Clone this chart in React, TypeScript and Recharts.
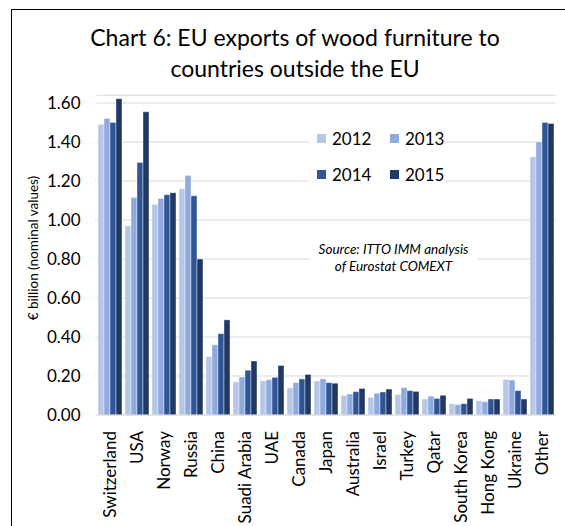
import { Bar, BarChart, CartesianGrid, XAxis, YAxis } from "recharts";

// EU exports of wood furniture outside the EU, € billion
const countries = [
  "Switzerland", "USA", "Norway", "Russia", "China", "Suadi Arabia", "UAE", "Canada", "Japan",
  "Australia", "Israel", "Turkey", "Qatar", "South Korea", "Hong Kong", "Ukraine", "Other",
];
const exports2012 = [1.49, 0.97, 1.08, 1.16, 0.3, 0.17, 0.175, 0.14, 0.175, 0.1, 0.09, 0.105, 0.082, 0.058, 0.073, 0.182, 1.325];
const exports2013 = [1.52, 1.115, 1.11, 1.228, 0.36, 0.195, 0.181, 0.166, 0.185, 0.108, 0.112, 0.14, 0.097, 0.053, 0.068, 0.179, 1.4];
const exports2014 = [1.5, 1.295, 1.13, 1.124, 0.417, 0.23, 0.193, 0.185, 0.166, 0.12, 0.118, 0.125, 0.085, 0.058, 0.082, 0.125, 1.5];
const exports2015 = [1.622, 1.555, 1.14, 0.8, 0.488, 0.277, 0.254, 0.208, 0.163, 0.136, 0.133, 0.121, 0.101, 0.085, 0.082, 0.082, 1.495];
const yTicks = [0, 0.2, 0.4, 0.6, 0.8, 1.0, 1.2, 1.4, 1.6];

const series = [
  { key: "y2012", label: "2012", color: "#b4c7e7", values: exports2012 },
  { key: "y2013", label: "2013", color: "#8faadc", values: exports2013 },
  { key: "y2014", label: "2014", color: "#2f5597", values: exports2014 },
  { key: "y2015", label: "2015", color: "#203864", values: exports2015 },
];

const FONT = "Lato, 'Open Sans', sans-serif";

type Row = { name: string; [k: string]: string | number };

const chartData: Row[] = countries.map((name, i) => {
  const row: Row = { name };
  series.forEach((s) => {
    row[s.key] = s.values[i];
  });
  return row;
});

/** Country names, rotated to read bottom-to-top under each group. */
function CountryTick(props: any) {
  const { x, y, payload } = props;
  return (
    <text
      x={x}
      y={y}
      transform={`rotate(-90, ${x}, ${y})`}
      textAnchor="end"
      dy="0.35em"
      fontSize={17}
      fontFamily={FONT}
      fill="#000"
    >
      {payload.value}
    </text>
  );
}

export default function App() {
  return (
    <div style={{ position: "absolute", left: 0, top: 0, width: 565, height: 526, background: "#fff", overflow: "hidden", fontFamily: FONT }}>
      {/* frame: only left and top edges show in the crop */}
      <div style={{ position: "absolute", left: 11, top: 9, width: 560, height: 530, borderLeft: "1.5px solid #000", borderTop: "1.5px solid #000" }} />
      <div style={{ position: "absolute", left: 12, top: 22, width: 566, textAlign: "center", fontSize: 23, lineHeight: "31px", color: "#000" }}>
        Chart 6: EU exports of wood furniture to
        <br />
        countries outside the EU
      </div>
      <BarChart
        width={565}
        height={526}
        data={chartData}
        margin={{ top: 95.2, right: 9.5, left: 36.5, bottom: 0 }}
        barCategoryGap="5.5%"
        barGap={0}
        style={{ position: "absolute", left: 0, top: 0 }}
      >
        <CartesianGrid vertical={false} stroke="#d9d9d9" />
        <XAxis
          dataKey="name"
          interval={0}
          height={111}
          tickSize={0}
          tickMargin={16}
          tickLine={false}
          axisLine={{ stroke: "#d9d9d9" }}
          tick={CountryTick}
        />
        <YAxis
          domain={[0, 1.64]}
          ticks={yTicks}
          tickFormatter={(v: number) => v.toFixed(2)}
          width={60}
          axisLine={false}
          tickLine={false}
          tickSize={8}
          tickMargin={8}
          tick={{ fill: "#000", fontSize: 17, fontFamily: FONT }}
        />
        {series.map((s) => (
          <Bar key={s.key} dataKey={s.key} fill={s.color} stroke="#ffffff" strokeWidth={0.4} isAnimationActive={false} />
        ))}
      </BarChart>
      {/* axis title */}
      <div
        style={{
          position: "absolute",
          left: 33,
          top: 248,
          transform: "translate(-50%, -50%) rotate(-90deg)",
          whiteSpace: "nowrap",
          fontSize: 13.5,
          color: "#000",
        }}
      >
        € billion (nominal values)
      </div>
      {/* legend, 2x2 on a white box over the gridlines */}
      <div style={{ position: "absolute", left: 309, top: 124, width: 135, height: 68, background: "#fff" }}>
        {series.map((s, i) => (
          <div
            key={s.key}
            style={{
              position: "absolute",
              left: (i % 2) * 73 + 8,
              top: Math.floor(i / 2) * 36,
              height: 28,
              display: "flex",
              alignItems: "center",
              fontSize: 17,
              color: "#000",
            }}
          >
            <span style={{ display: "inline-block", width: 9, height: 9, background: s.color, marginRight: 6 }} />
            {s.label}
          </div>
        ))}
      </div>
      {/* source note */}
      <div
        style={{
          position: "absolute",
          left: 310,
          top: 240,
          width: 167,
          padding: "1px 0",
          background: "#fff",
          textAlign: "center",
          fontStyle: "italic",
          fontSize: 13.5,
          lineHeight: "17px",
          color: "#000",
        }}
      >
        Source: ITTO IMM analysis
        <br />
        of Eurostat COMEXT
      </div>
    </div>
  );
}
